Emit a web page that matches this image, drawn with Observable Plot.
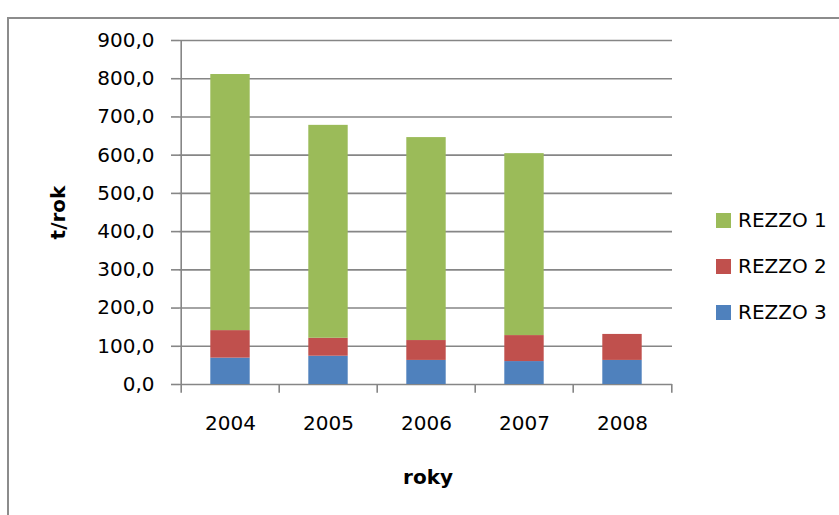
<!DOCTYPE html>
<html><head><meta charset="utf-8">
<script src="https://cdn.jsdelivr.net/npm/d3@7"></script>
<script src="https://cdn.jsdelivr.net/npm/@observablehq/plot@0.6"></script>
<style>
body{margin:0;background:#fff;font-family:"DejaVu Sans",sans-serif;}
#wrap{position:relative;width:839px;height:515px;overflow:hidden;}
#wrap svg{position:absolute;left:0;top:0;}
#border{position:absolute;left:7px;top:17px;width:900px;height:600px;border:2px solid #8c8c8c;box-sizing:border-box;}
#legend{position:absolute;left:716px;top:197px;font-size:20px;color:#000;}
#legend div{display:flex;align-items:center;height:46px;}
#legend span.sw{display:inline-block;width:15px;height:15px;margin-right:7px;}
</style></head><body>
<div id="wrap"><div id="border"></div><div id="legend"></div></div>
<script>
const years = ["2004","2005","2006","2007","2008"];
const seriesNames = ["REZZO 1","REZZO 2","REZZO 3"];
const seriesColors = ["#9BBB59","#C0504D","#4F81BD"];
const rezzo1 = [670, 557, 531, 476, 0];
const rezzo2 = [72, 47, 52, 68, 68];
const rezzo3 = [69, 74, 63, 60, 63];
const yTicks = [0,100,200,300,400,500,600,700,800,900];

const values = [rezzo1, rezzo2, rezzo3];
const data = [];
years.forEach((yr, i) => {
  [2,1,0].forEach(s => data.push({year: yr, series: seriesNames[s], value: values[s][i]}));
});
const fmt = d => d.toFixed(1).replace(".", ",");
const step = (672 - 179) / years.length;
const barInset = (step - 40) / 2;
const grey = "#868686";

const chart = Plot.plot({
  width: 839, height: 515,
  marginLeft: 179, marginRight: 167, marginTop: 40, marginBottom: 131,
  style: {fontFamily: "'DejaVu Sans', sans-serif", fontSize: "20px", color: "#000", background: "transparent"},
  x: {domain: years, padding: 0, label: null},
  y: {domain: [0, 900], label: null},
  color: {domain: seriesNames, range: seriesColors},
  marks: [
    Plot.ruleY(yTicks, {stroke: grey, strokeWidth: 1.6}),
    Plot.axisY({ticks: yTicks, tickFormat: fmt, tickSize: 8, tickPadding: 17, stroke: grey, strokeWidth: 1.6, fontSize: 20, label: null}),
    Plot.barY(data, {x: "year", y: "value", fill: "series", order: ["REZZO 3","REZZO 2","REZZO 1"], insetLeft: barInset, insetRight: barInset}),
    Plot.ruleX(years, {x: d => d, y1: 0, y2: -23, dx: -step/2, stroke: grey, strokeWidth: 1.6}),
    Plot.ruleX(years.slice(-1), {x: d => d, y1: 0, y2: -23, dx: step/2, stroke: grey, strokeWidth: 1.6}),
    Plot.ruleX(years.slice(0, 1), {x: d => d, y1: 0, y2: 900, dx: -step/2, stroke: grey, strokeWidth: 1.6}),
    Plot.axisX({tickSize: 0, tickPadding: 31, fontSize: 20, label: null}),
    Plot.text(["roky"], {frameAnchor: "bottom", lineAnchor: "middle", dx: 2, dy: 93, fontWeight: "bold", fontSize: 20, text: d => d}),
    Plot.text(["t/rok"], {frameAnchor: "left", textAnchor: "middle", dx: -121, rotate: -90, fontWeight: "bold", fontSize: 20, text: d => d})
  ]
});
document.getElementById("wrap").appendChild(chart);
const leg = document.getElementById("legend");
seriesNames.forEach((n, i) => {
  const row = document.createElement("div");
  row.innerHTML = `<span class="sw" style="background:${seriesColors[i]}"></span>${n}`;
  leg.appendChild(row);
});
</script>
</body></html>
